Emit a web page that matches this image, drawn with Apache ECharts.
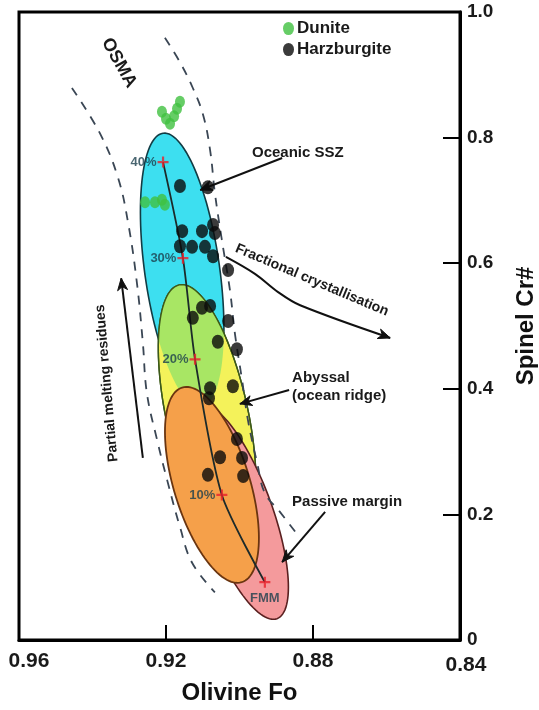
<!DOCTYPE html>
<html><head><meta charset="utf-8">
<script src="https://cdn.jsdelivr.net/npm/echarts@6/dist/echarts.min.js"></script>
<style>html,body{margin:0;padding:0;background:#fff}#c{width:539px;height:710px}</style>
</head><body><div id="c"></div>
<script>
// ---------------- data ----------------
const xTicks = [0.84, 0.88, 0.92, 0.96];
const xTickLabels = ['0.84', '0.88', '0.92', '0.96'];
const yTicks = [0, 0.2, 0.4, 0.6, 0.8, 1.0];
const yTickLabels = ['0', '0.2', '0.4', '0.6', '0.8', '1.0'];

const duniteFo = [0.9211, 0.9200, 0.9189, 0.9178, 0.9170, 0.9162, 0.9257, 0.9230, 0.9211, 0.9203];
const duniteCr = [0.841, 0.830, 0.822, 0.834, 0.846, 0.857, 0.697, 0.697, 0.701, 0.693];

const harzFo = [0.9162, 0.9086, 0.9156, 0.9102, 0.9072, 0.9067, 0.9162, 0.9129, 0.9094, 0.9072,
                0.9031, 0.9102, 0.9080, 0.9127, 0.9031, 0.9059, 0.9007, 0.9080, 0.9083, 0.9018,
                0.9007, 0.9053, 0.8993, 0.9086, 0.8990];
const harzCr = [0.723, 0.721, 0.651, 0.651, 0.661, 0.648, 0.627, 0.626, 0.626, 0.611,
                0.589, 0.529, 0.532, 0.513, 0.508, 0.475, 0.463, 0.401, 0.385, 0.404,
                0.320, 0.291, 0.290, 0.263, 0.261];

const meltLabels = ['40%', '30%', '20%', '10%', 'FMM'];
const meltFo = [0.9208, 0.9154, 0.9121, 0.9048, 0.8931];
const meltCr = [0.761, 0.608, 0.447, 0.231, 0.092];

const osmaLowerFo = [0.9456, 0.9380, 0.9331, 0.9303, 0.9279, 0.9263, 0.9252, 0.9224, 0.9197, 0.9162, 0.9129, 0.9067];
const osmaLowerCr = [0.879, 0.807, 0.737, 0.664, 0.568, 0.473, 0.393, 0.318, 0.255, 0.180, 0.123, 0.076];
const osmaUpperFo = [0.9203, 0.9162, 0.9127, 0.9099, 0.9080, 0.9067, 0.9048, 0.9026, 0.9012, 0.8993, 0.8977, 0.8952, 0.8931, 0.8890, 0.8844];
const osmaUpperCr = [0.959, 0.920, 0.879, 0.836, 0.780, 0.712, 0.637, 0.557, 0.486, 0.414, 0.350, 0.282, 0.234, 0.204, 0.169];

// fields: SSZ, Abyssal, Passive margin, inner (orange) field
const fieldNames = ['Oceanic SSZ', 'Abyssal', 'Passive margin', 'Inner'];
const fieldCenterFo = [0.9156, 0.9088, 0.9004, 0.9075];
const fieldCenterCr = [0.589, 0.358, 0.204, 0.247];
const fieldTipFo = [0.9208, 0.9164, 0.9110, 0.9156];
const fieldTipCr = [0.807, 0.5654, 0.374, 0.402];
const fieldHalfWidthFo = [0.0102, 0.01116, 0.00925, 0.01034];

// annotation anchors (data coordinates)
const noteTexts = ['OSMA', 'Oceanic SSZ', 'Fractional crystallisation', 'Partial melting residues', 'Abyssal\n(ocean ridge)', 'Passive margin'];
const noteFo = [0.9328, 0.8966, 0.8803, 0.9361, 0.8857, 0.8857];
const noteCr = [0.919, 0.7755, 0.573, 0.409, 0.403, 0.220];
const arrowFo = [[0.8884, 0.9107], [0.9037, 0.8958, 0.8895, 0.8835, 0.8590], [0.9263, 0.9322], [0.8865, 0.8999], [0.8767, 0.8884]];
const arrowCr = [[0.7675, 0.7166], [0.610, 0.583, 0.554, 0.533, 0.481], [0.290, 0.576], [0.398, 0.376], [0.204, 0.124]];

// ---------------- styles ----------------
const FONT = '"Liberation Sans", Arial, Helvetica, sans-serif';
const fieldFill = ['#3ddff0', '#f4f25a', '#f49a9c', '#f5a04a'];
const fieldStroke = ['#123c44', '#3d5a1a', '#5a2020', '#6a3510'];
const overlapFill = '#a8e664';
const noteStyle = [
  {rot: -61, size: 18, align: 'center'},
  {rot: 0, size: 15, align: 'left'},
  {rot: -23, size: 14, align: 'center'},
  {rot: 95, size: 14, align: 'center'},
  {rot: 0, size: 15, align: 'left'},
  {rot: 0, size: 15, align: 'left'}
];
const arrowSmooth = [0, 0.35, 0, 0, 0];
const dotPath = 'path://M0,6 A5,6 0 1 1 10,6 A5,6 0 1 1 0,6 Z';
const crossPath = 'path://M4,0H6V4H10V6H6V10H4V6H0V4H4Z';

function ellipsePts(api, i) {
  const c = api.coord([fieldCenterFo[i], fieldCenterCr[i]]);
  const t = api.coord([fieldTipFo[i], fieldTipCr[i]]);
  const ux = t[0] - c[0], uy = t[1] - c[1];
  const a = Math.hypot(ux, uy);
  const b = Math.abs(api.size([fieldHalfWidthFo[i], 0])[0]);
  const nx = -uy / a, ny = ux / a;
  const pts = [];
  const N = 120;
  for (let k = 0; k < N; k++) {
    const th = 2 * Math.PI * k / N;
    pts.push([c[0] + Math.cos(th) * ux + Math.sin(th) * b * nx,
              c[1] + Math.cos(th) * uy + Math.sin(th) * b * ny]);
  }
  return pts;
}

function clipPoly(subject, clip) {
  let area = 0;
  for (let i = 0; i < clip.length; i++) {
    const p = clip[i], q = clip[(i + 1) % clip.length];
    area += p[0] * q[1] - q[0] * p[1];
  }
  const s = area > 0 ? 1 : -1;
  let out = subject;
  for (let i = 0; i < clip.length && out.length; i++) {
    const A = clip[i], B = clip[(i + 1) % clip.length];
    const side = p => (B[0] - A[0]) * (p[1] - A[1]) - (B[1] - A[1]) * (p[0] - A[0]);
    const inp = out; out = [];
    for (let j = 0; j < inp.length; j++) {
      const P = inp[j], Q = inp[(j + 1) % inp.length];
      const dp = side(P), dq = side(Q);
      const pi = s * dp >= 0, qi = s * dq >= 0;
      if (pi) out.push(P);
      if (pi !== qi) {
        const tt = dp / (dp - dq);
        out.push([P[0] + (Q[0] - P[0]) * tt, P[1] + (Q[1] - P[1]) * tt]);
      }
    }
  }
  return out;
}

function renderFields(params, api) {
  const polys = fieldNames.map((_, i) => ellipsePts(api, i));
  const children = [];
  const poly = (pts, fill, stroke, lw) => ({
    type: 'polygon', shape: {points: pts},
    style: {fill: fill, stroke: stroke, lineWidth: lw}
  });
  children.push(poly(polys[0], fieldFill[0], fieldStroke[0], 1.6));
  children.push(poly(polys[1], fieldFill[1], fieldStroke[1], 1.4));
  const inter = clipPoly(polys[1], polys[0]);
  if (inter.length > 2) children.push(poly(inter, overlapFill, null, 0));
  children.push(poly(polys[1], null, fieldStroke[1], 1.4));
  children.push(poly(polys[2], fieldFill[2], fieldStroke[2], 1.6));
  children.push(poly(polys[3], fieldFill[3], fieldStroke[3], 1.8));
  return {type: 'group', children: children};
}

function renderNotes(params, api) {
  const children = [];
  noteTexts.forEach((txt, i) => {
    const p = api.coord([noteFo[i], noteCr[i]]);
    const st = noteStyle[i];
    children.push({
      type: 'text', x: p[0], y: p[1], rotation: st.rot * Math.PI / 180,
      style: {text: txt, x: 0, y: 0, fill: '#1a1a1a', fontSize: st.size, fontWeight: 'bold',
              fontFamily: FONT, align: st.align, verticalAlign: 'middle', lineHeight: st.size + 3}
    });
  });
  arrowFo.forEach((fos, i) => {
    const pts = fos.map((f, k) => api.coord([f, arrowCr[i][k]]));
    children.push({
      type: 'polyline', shape: {points: pts, smooth: arrowSmooth[i]},
      style: {stroke: '#111', lineWidth: 2, fill: null}
    });
    const tip = pts[pts.length - 1], prev = pts[pts.length - 2];
    const dx = tip[0] - prev[0], dy = tip[1] - prev[1];
    const L = Math.hypot(dx, dy), ux = dx / L, uy = dy / L;
    const hl = 12, hw = 5;
    const bx = tip[0] - ux * hl, by = tip[1] - uy * hl;
    children.push({
      type: 'polygon',
      shape: {points: [tip, [bx - uy * hw, by + ux * hw], [tip[0] - ux * hl * 0.7, tip[1] - uy * hl * 0.7], [bx + uy * hw, by - ux * hw]]},
      style: {fill: '#111', stroke: '#111', lineWidth: 1}
    });
  });
  return {type: 'group', children: children};
}

const chart = echarts.init(document.getElementById('c'), null, {renderer: 'canvas'});
const nearestIdx = (ticks, v) => {
  let best = 0;
  ticks.forEach((t, i) => { if (Math.abs(t - v) < Math.abs(ticks[best] - v)) best = i; });
  return best;
};
const xLabelFmt = v => {
  const i = nearestIdx(xTicks, v);
  if (i === xTicks.length - 1) return '{l|' + xTickLabels[i] + '}';
  if (i === 0) return '{r|' + xTickLabels[i] + '}';
  return xTickLabels[i];
};
const yLabelFmt = v => yTickLabels[nearestIdx(yTicks, v)];
const tickFont = {fontSize: 21, fontWeight: 'bold', color: '#1a1a1a', fontFamily: FONT};

const option = {
  animation: false,
  backgroundColor: '#ffffff',
  grid: {left: 19, right: 79, top: 12, bottom: 70, outerBoundsMode: 'none', containLabel: false,
         show: true, borderColor: '#000', borderWidth: 3, backgroundColor: 'transparent'},
  legend: {
    data: ['Dunite', 'Harzburgite'], orient: 'vertical', left: 278, top: 15,
    itemWidth: 11, itemHeight: 14, itemGap: 4,
    textStyle: {fontSize: 17, fontWeight: 'bold', color: '#1a1a1a', fontFamily: FONT, padding: [0, 0, 0, -2]}
  },
  xAxis: {
    type: 'value', min: 0.84, max: 0.96, interval: 0.04, inverse: true, position: 'bottom',
    name: 'Olivine Fo', nameLocation: 'middle', nameGap: 41,
    nameTextStyle: {fontSize: 24, fontWeight: 'bold', color: '#111', fontFamily: FONT},
    axisLine: {show: true, onZero: false, lineStyle: {color: '#000', width: 3}},
    axisTick: {show: true, inside: true, length: 15, lineStyle: {color: '#000', width: 2}},
    axisLabel: Object.assign({margin: 11, formatter: xLabelFmt,
      rich: {l: Object.assign({padding: [0, 0, 0, 20]}, tickFont), r: Object.assign({padding: [4, 0, 0, 12]}, tickFont)}}, tickFont),
    splitLine: {show: false}
  },
  yAxis: {
    type: 'value', min: 0, max: 1, interval: 0.2, position: 'right',
    name: 'Spinel Cr#', nameLocation: 'middle', nameGap: 54, nameRotate: 90,
    nameTextStyle: {fontSize: 24, fontWeight: 'bold', color: '#111', fontFamily: FONT},
    axisLine: {show: true, onZero: false, lineStyle: {color: '#000', width: 3}},
    axisTick: {show: true, inside: true, length: 17, lineStyle: {color: '#000', width: 2}},
    axisLabel: {margin: 7, fontSize: 19, fontWeight: 'bold', color: '#1a1a1a', fontFamily: FONT, formatter: yLabelFmt},
    splitLine: {show: false}
  },
  series: [
    {type: 'custom', name: 'fields', silent: true, z: 1, data: [[0.9, 0.5]], renderItem: renderFields},
    {type: 'line', name: 'OSMA lower', z: 2, silent: true, symbol: 'none', smooth: 0.4,
     data: osmaLowerFo.map((f, i) => [f, osmaLowerCr[i]]),
     lineStyle: {color: '#3a4654', width: 1.8, type: [9, 8]}},
    {type: 'line', name: 'OSMA upper', z: 2, silent: true, symbol: 'none', smooth: 0.4,
     data: osmaUpperFo.map((f, i) => [f, osmaUpperCr[i]]),
     lineStyle: {color: '#3a4654', width: 1.8, type: [9, 8]}},
    {type: 'line', name: 'melting', z: 3, silent: true, symbol: 'none', smooth: 0.25,
     data: meltFo.map((f, i) => [f, meltCr[i]]),
     lineStyle: {color: '#1c2a2a', width: 1.8}},
    {type: 'scatter', name: 'melting steps', z: 4, silent: true, symbol: crossPath, symbolSize: 11,
     itemStyle: {color: '#e8202a'},
     data: meltFo.map((f, i) => ({value: [f, meltCr[i]], name: meltLabels[i],
       label: {show: true, position: i === 4 ? 'bottom' : 'left', distance: i === 4 ? 4 : 1,
               formatter: meltLabels[i], fontSize: 13, fontWeight: 'bold', color: '#1c3f4c', fontFamily: FONT}}))},
    {type: 'custom', name: 'notes', silent: true, z: 5, data: [[0.9, 0.5]], renderItem: renderNotes},
    {type: 'scatter', name: 'Dunite', z: 6, symbol: dotPath, symbolSize: [10, 12],
     itemStyle: {color: '#40c040'},
     data: duniteFo.map((f, i) => [f, duniteCr[i]])},
    {type: 'scatter', name: 'Harzburgite', z: 6, symbol: dotPath, symbolSize: [12, 14],
     itemStyle: {color: '#0a0a0a'},
     data: harzFo.map((f, i) => [f, harzCr[i]])}
  ]
};
chart.setOption(option);
</script>
</body></html>
